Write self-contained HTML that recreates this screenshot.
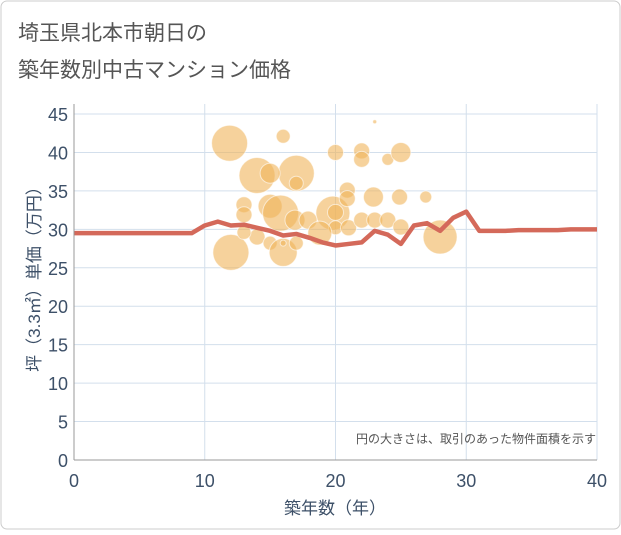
<!DOCTYPE html>
<html><head><meta charset="utf-8"><style>
body{margin:0;background:#fff;}
svg text{font-family:"Liberation Sans","Noto Sans CJK JP",sans-serif;}
</style></head><body>
<svg width="621" height="530" xmlns="http://www.w3.org/2000/svg">
<rect x="1" y="1" width="619" height="528" rx="6" fill="#fff" stroke="#ccc"/>
<text x="18" y="40" font-size="21" fill="#555">埼玉県北本市朝日の</text>
<text x="18" y="77" font-size="21" fill="#555">築年数別中古マンション価格</text>
<g id="grid"></g>
<g id="bubbles"></g>
<g id="line"></g>
<g id="axes"></g>
<text x="596" y="443" font-size="12" fill="#555" text-anchor="end">円の大きさは、取引のあった物件面積を示す</text>
<text x="335" y="514" font-size="17" fill="#3d5068" text-anchor="middle">築年数（年）</text>
<text transform="translate(40,275) rotate(-90)" font-size="17" fill="#3d5068" text-anchor="middle">坪（3.3㎡）単価（万円）</text>
</svg>
<script>
const xTicks=[0,10,20,30,40];
const yTicks=[0,5,10,15,20,25,30,35,40,45];
const bubbleX=[11.9,16,20,22,22,24,25,23,14,17,15,17,13,13,15,15.8,19.8,20.9,20.9,22.9,24.9,26.9,16.9,17.9,20,20,21,22,23,24,25,28,12,14,15,16,16,17,13,18.8];
const bubbleY=[41.2,42.1,40,40.2,39.1,39.1,40,44,37,37.3,37.3,36,33.2,31.9,33,32.1,32.1,35.1,34,34.2,34.2,34.2,31.2,31.2,32.2,30.2,30.2,31.2,31.2,31.2,30.3,29,27,29,28.2,27,28.2,28.2,29.6,29.5];
const bubbleR=[18,7,8,8,8,6,10,2,18,18,10,7,8,8,12,18,17,8,8,10,8,6,10,9,8,7,8,8,8,8,8,17,18,8,7,14,3,7,7,12];
const lineX=[0,1,2,3,4,5,6,7,8,9,10,11,12,13,14,15,16,17,18,19,20,21,22,23,24,25,26,27,28,29,30,31,32,33,34,35,36,37,38,39,40];
const lineY=[29.5,29.5,29.5,29.5,29.5,29.5,29.5,29.5,29.5,29.5,30.5,31,30.5,30.6,30.2,29.8,29.2,29.4,28.9,28.3,27.9,28.1,28.3,29.8,29.3,28.1,30.5,30.8,29.8,31.5,32.3,29.8,29.8,29.8,29.9,29.9,29.9,29.9,30,30,30];
const X0=74,X1=597,Y0=460,Y1=114;
const sx=v=>X0+(v-0)/(40-0)*(X1-X0);
const sy=v=>Y0-(v-0)/(45-0)*(Y0-Y1);
const NS="http://www.w3.org/2000/svg";
function mk(t,a,p){const e=document.createElementNS(NS,t);for(const k in a)e.setAttribute(k,a[k]);p.appendChild(e);return e;}
const grid=document.getElementById('grid'),axes=document.getElementById('axes');
xTicks.forEach(v=>{
 const l=mk('line',{x1:sx(v),x2:sx(v),y1:Y1-10,y2:Y0,stroke:'#d3dfec','stroke-width':1},grid);
 
 
 const t=mk('text',{x:sx(v),y:Y0+27,'font-size':18,fill:'#3d5068','text-anchor':'middle'},axes);
 t.textContent=v;
 
 
});
yTicks.forEach(v=>{
 const l=mk('line',{x1:X0,x2:X1,y1:sy(v),y2:sy(v),stroke:'#d3dfec','stroke-width':1},grid);
 
 
 const t=mk('text',{x:X0-6,y:sy(v)+7,'font-size':18,fill:'#3d5068','text-anchor':'end'},axes);
 t.textContent=v;
 
 
});
const ax=mk('line',{x1:X0,x2:X1,y1:Y0,y2:Y0,stroke:'#999','stroke-width':1},axes);


const ay=mk('line',{x1:X0,x2:X0,y1:Y1-10,y2:Y0,stroke:'#999','stroke-width':1},axes);


const bg=document.getElementById('bubbles');
bubbleX.forEach((x,i)=>{
 const c=mk('circle',{cx:sx(x),cy:sy(bubbleY[i]),r:bubbleR[i],fill:'rgba(240,180,90,0.6)',stroke:'rgba(255,255,255,0.6)','stroke-width':1},bg);
 
 
});
const pts=lineX.map((x,i)=>sx(x)+','+sy(lineY[i])).join(' ');
const pl=mk('polyline',{points:pts,fill:'none',stroke:'#d4695a','stroke-width':4.5,'stroke-linejoin':'round'},document.getElementById('line'));


</script>
</body></html>
